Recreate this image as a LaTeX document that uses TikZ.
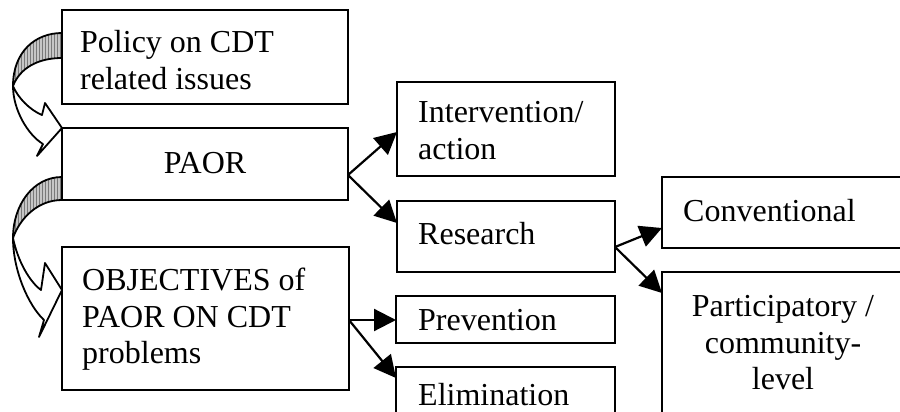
\documentclass[tikz,border=0pt]{standalone}
\usepackage{fontspec}
\setmainfont{Liberation Serif}
\usetikzlibrary{arrows.meta,calc,patterns}

\begin{document}
\begin{tikzpicture}[x=1pt,y=-1pt,
  box/.style={draw,line width=2.2pt,anchor=north west,inner sep=0pt,outer sep=0pt},
  lbl/.style={anchor=base west,inner sep=0pt,font=\fontsize{32}{37}\selectfont},
  clbl/.style={lbl,anchor=base},
  link/.style={line width=2.2pt,-{Triangle[length=22pt,width=22pt]}},
  ribbon/.style={line width=1.8pt,line join=round},
  backface/.style={ribbon,preaction={fill=gray!45},pattern=vertical lines,pattern color=gray!95!black},
]
\useasboundingbox (0,0) rectangle (900,412);
\begin{scope}
\clip (0,0) rectangle (900,412);

% curved ribbon arrows on the left
\filldraw[backface] (62,33) .. controls (35,33) and (13,52) .. (13,86)
  .. controls (20,68) and (38,58) .. (62,58) -- cycle;
\filldraw[ribbon,fill=white] (13,86) .. controls (13,110) and (28,135) .. (43,144)
  -- (37,156) -- (62,128) -- (45,103) -- (42,115)
  .. controls (30,110) and (18,98) .. (13,86) -- cycle;

\filldraw[backface] (62,177) .. controls (33,177) and (13,205) .. (13,238)
  .. controls (20,218) and (38,200) .. (62,200) -- cycle;
\filldraw[ribbon,fill=white] (13,238) .. controls (13,270) and (28,305) .. (44,320)
  -- (39,337) -- (62,290) -- (45,263) -- (41,290)
  .. controls (30,282) and (18,262) .. (13,238) -- cycle;

% boxes
\node[box,minimum width=286pt,minimum height=94pt]  (policy)   at (62,10)  {};
\node[box,minimum width=286pt,minimum height=72pt]  (paor)     at (62,128) {};
\node[box,minimum width=287pt,minimum height=143pt] (obj)      at (62,247) {};
\node[box,minimum width=218pt,minimum height=94pt]  (interv)   at (397,82) {};
\node[box,minimum width=218pt,minimum height=71pt]  (research) at (397,201) {};
\node[box,minimum width=219pt,minimum height=47pt]  (prev)     at (396,296) {};
\node[box,minimum width=219pt,minimum height=70pt]  (elim)     at (396,367) {};
\node[box,minimum width=250pt,minimum height=71pt]  (conv)     at (662,177) {};
\node[box,minimum width=242pt,minimum height=170pt] (part)     at (662,272) {};

% texts
\node[lbl] (policyA) at (80,53) {Policy on CDT};
\node[lbl] (policyB) at (80,90) {related issues};
\node[clbl] (paorT) at (205,173) {PAOR};
\node[lbl] (objA) at (82,290) {OBJECTIVES of};
\node[lbl] (objB) at (82,327) {PAOR ON CDT};
\node[lbl] (objC) at (82,363) {problems};
\node[lbl] (intervA) at (418,122) {Intervention/};
\node[lbl] (intervB) at (418,159) {action};
\node[lbl] (researchT) at (418,244) {Research};
\node[lbl] (prevT) at (418,330) {Prevention};
\node[lbl] (elimT) at (418,405) {Elimination};
\node[lbl] (convT) at (683,221) {Conventional};
\node[clbl] (partA) at (783,316) {Participatory /};
\node[clbl] (partB) at (783,353) {community-};
\node[clbl] (partC) at (783,389) {level};

% connector ends
\coordinate (paorout)     at ($(paor.north east)+(0,47)$);
\coordinate (intervin)    at ($(interv.north west)+(0,50)$);
\coordinate (researchin)  at ($(research.north west)+(0,22)$);
\coordinate (researchout) at ($(research.north east)+(0,46)$);
\coordinate (convin)      at ($(conv.north west)+(0,51)$);
\coordinate (partin)      at ($(part.north west)+(0,21)$);
\coordinate (objout)      at ($(obj.north east)+(0,73)$);
\coordinate (previn)      at ($(prev.north west)+(0,24)$);
\coordinate (elimin)      at ($(elim.north west)+(0,11)$);

% connectors
\draw[link] (paorout) -- (intervin);
\draw[link] (paorout) -- (researchin);
\draw[link] (researchout) -- (convin);
\draw[link] (researchout) -- (partin);
\draw[link] (objout) -- (previn);
\draw[link] (objout) -- (elimin);
\end{scope}
\end{tikzpicture}
\end{document}
